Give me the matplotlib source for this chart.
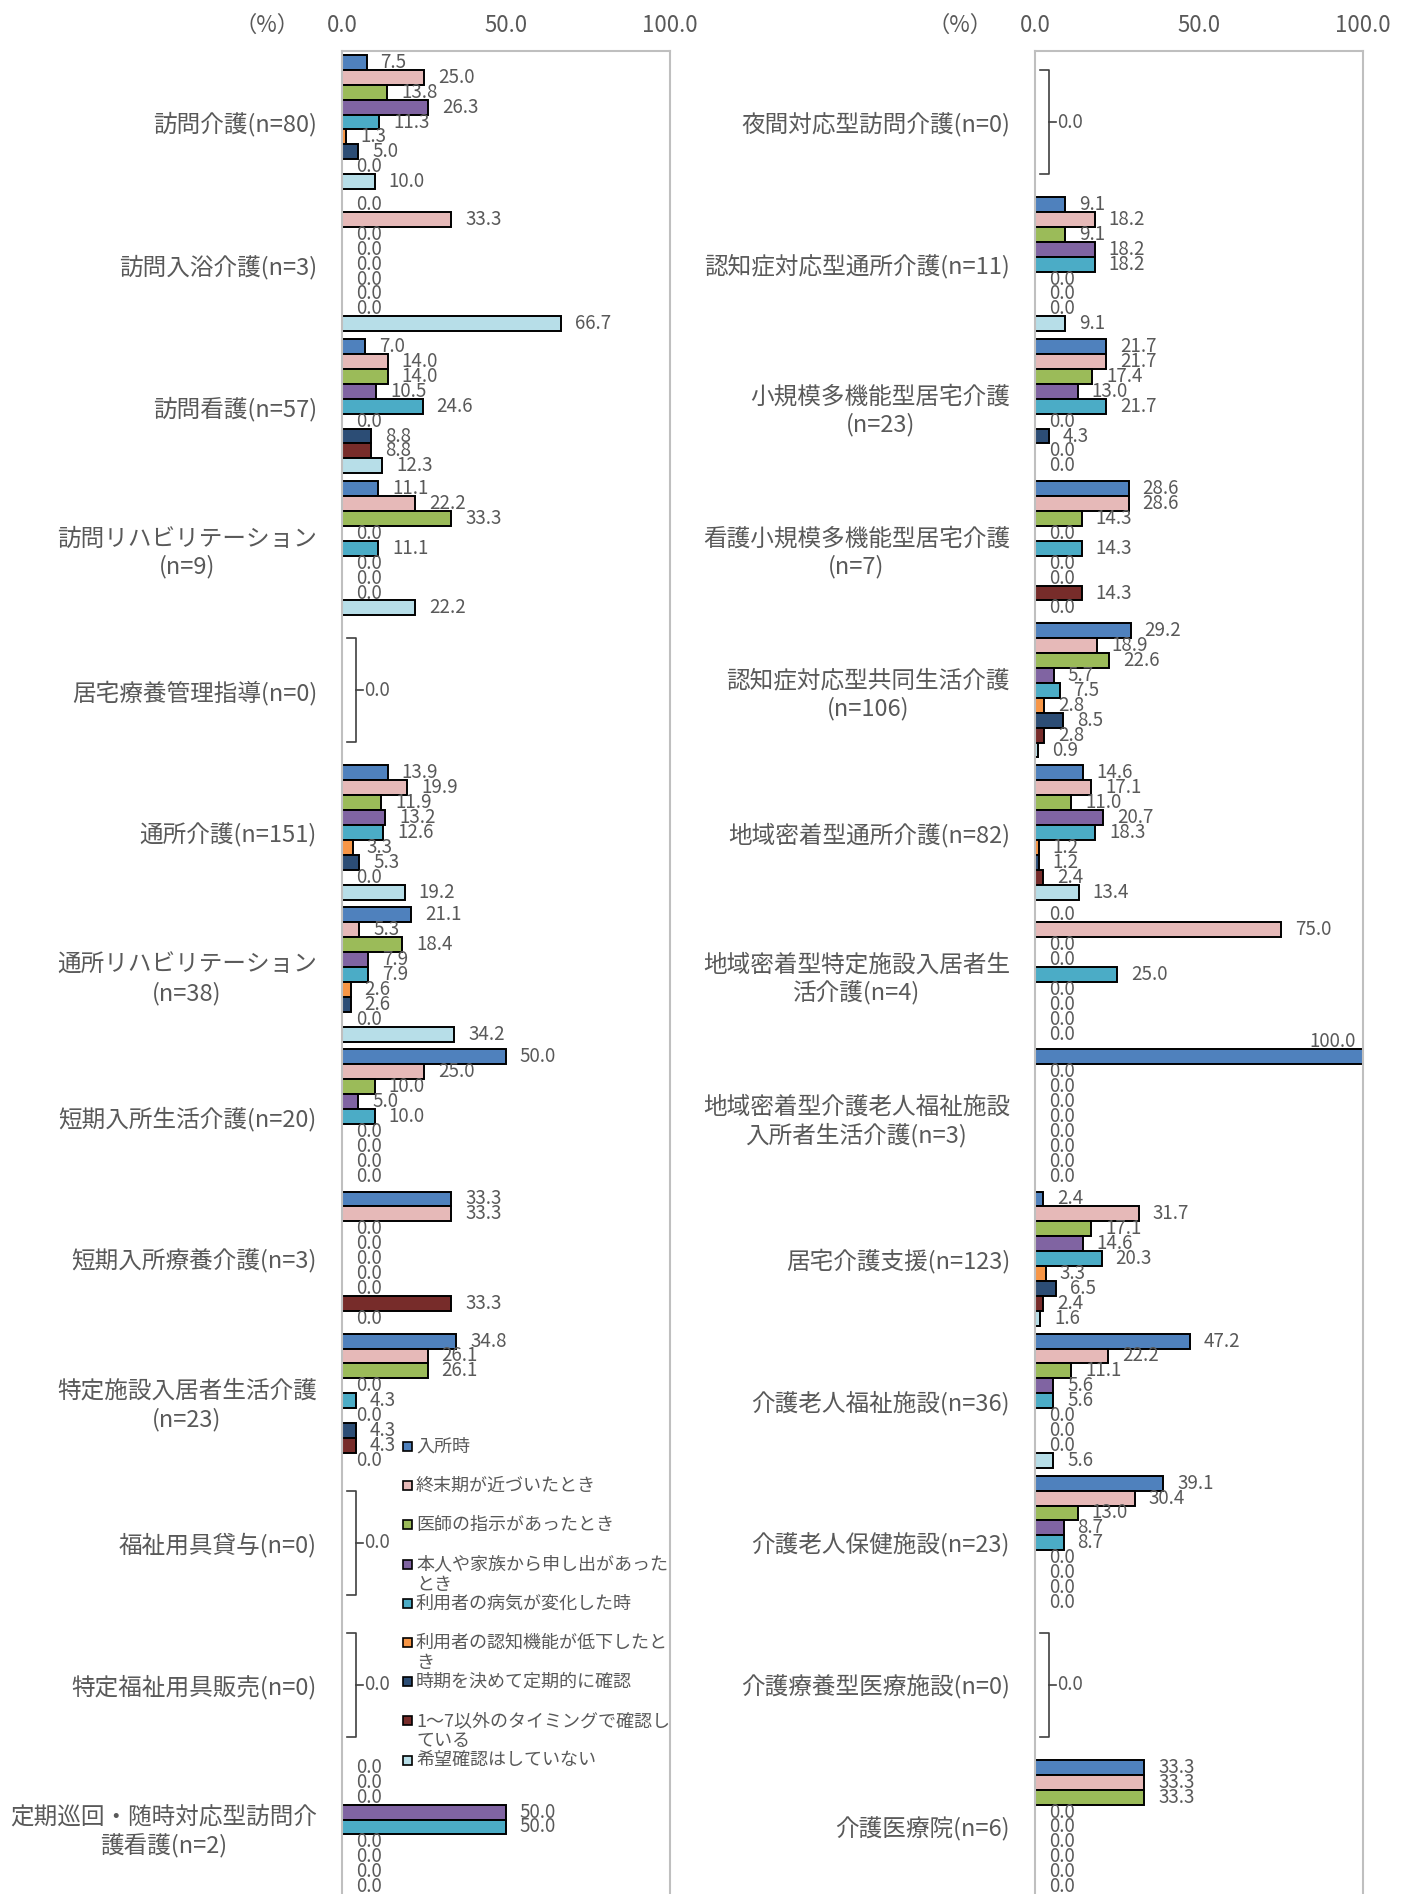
import numpy as np
import matplotlib
matplotlib.use('Agg')
import matplotlib.pyplot as plt
from matplotlib.patches import Rectangle

plt.rcParams['font.family'] = ['Noto Sans CJK JP', 'DejaVu Sans']

series = ['入所時', '終末期が近づいたとき', '医師の指示があったとき',
          '本人や家族から申し出があったとき', '利用者の病気が変化した時',
          '利用者の認知機能が低下したとき', '時期を決めて定期的に確認',
          '1～7以外のタイミングで確認している', '希望確認はしていない']
colors = ['#4F81BD', '#E6B9B8', '#9BBB59', '#8064A2', '#4BACC6',
          '#F79646', '#2C4D75', '#772C2A', '#B7DEE8']
# legend text as wrapped in the original
legend_lines = [['入所時'], ['終末期が近づいたとき'], ['医師の指示があったとき'],
                ['本人や家族から申し出があった', 'とき'], ['利用者の病気が変化した時'],
                ['利用者の認知機能が低下したと', 'き'], ['時期を決めて定期的に確認'],
                ['1～7以外のタイミングで確認し', 'ている'], ['希望確認はしていない']]

left_labels = ['訪問介護(n=80)', '訪問入浴介護(n=3)', '訪問看護(n=57)',
               '訪問リハビリテーション\n(n=9)', '居宅療養管理指導(n=0)', '通所介護(n=151)',
               '通所リハビリテーション\n(n=38)', '短期入所生活介護(n=20)', '短期入所療養介護(n=3)',
               '特定施設入居者生活介護\n(n=23)', '福祉用具貸与(n=0)', '特定福祉用具販売(n=0)',
               '定期巡回・随時対応型訪問介\n護看護(n=2)']
left_values = [
    [7.5, 25.0, 13.8, 26.3, 11.3, 1.3, 5.0, 0.0, 10.0],
    [0.0, 33.3, 0.0, 0.0, 0.0, 0.0, 0.0, 0.0, 66.7],
    [7.0, 14.0, 14.0, 10.5, 24.6, 0.0, 8.8, 8.8, 12.3],
    [11.1, 22.2, 33.3, 0.0, 11.1, 0.0, 0.0, 0.0, 22.2],
    None,
    [13.9, 19.9, 11.9, 13.2, 12.6, 3.3, 5.3, 0.0, 19.2],
    [21.1, 5.3, 18.4, 7.9, 7.9, 2.6, 2.6, 0.0, 34.2],
    [50.0, 25.0, 10.0, 5.0, 10.0, 0.0, 0.0, 0.0, 0.0],
    [33.3, 33.3, 0.0, 0.0, 0.0, 0.0, 0.0, 33.3, 0.0],
    [34.8, 26.1, 26.1, 0.0, 4.3, 0.0, 4.3, 4.3, 0.0],
    None,
    None,
    [0.0, 0.0, 0.0, 50.0, 50.0, 0.0, 0.0, 0.0, 0.0],
]

right_labels = ['夜間対応型訪問介護(n=0)', '認知症対応型通所介護(n=11)', '小規模多機能型居宅介護\n(n=23)',
                '看護小規模多機能型居宅介護\n(n=7)', '認知症対応型共同生活介護\n(n=106)',
                '地域密着型通所介護(n=82)', '地域密着型特定施設入居者生\n活介護(n=4)',
                '地域密着型介護老人福祉施設\n入所者生活介護(n=3)', '居宅介護支援(n=123)',
                '介護老人福祉施設(n=36)', '介護老人保健施設(n=23)', '介護療養型医療施設(n=0)',
                '介護医療院(n=6)']
right_values = [
    None,
    [9.1, 18.2, 9.1, 18.2, 18.2, 0.0, 0.0, 0.0, 9.1],
    [21.7, 21.7, 17.4, 13.0, 21.7, 0.0, 4.3, 0.0, 0.0],
    [28.6, 28.6, 14.3, 0.0, 14.3, 0.0, 0.0, 14.3, 0.0],
    [29.2, 18.9, 22.6, 5.7, 7.5, 2.8, 8.5, 2.8, 0.9],
    [14.6, 17.1, 11.0, 20.7, 18.3, 1.2, 1.2, 2.4, 13.4],
    [0.0, 75.0, 0.0, 0.0, 25.0, 0.0, 0.0, 0.0, 0.0],
    [100.0, 0.0, 0.0, 0.0, 0.0, 0.0, 0.0, 0.0, 0.0],
    [2.4, 31.7, 17.1, 14.6, 20.3, 3.3, 6.5, 2.4, 1.6],
    [47.2, 22.2, 11.1, 5.6, 5.6, 0.0, 0.0, 0.0, 5.6],
    [39.1, 30.4, 13.0, 8.7, 8.7, 0.0, 0.0, 0.0, 0.0],
    None,
    [33.3, 33.3, 33.3, 0.0, 0.0, 0.0, 0.0, 0.0, 0.0],
]

W, H = 1403, 1894
TXT = '#595959'
VFS = 13.5
fig = plt.figure(figsize=(W / 100, H / 100), dpi=100)


def panel(x0, labels, values):
    ax = fig.add_axes([x0 / W, (H - 1898) / H, 328 / W, 1847 / H])
    bh = 0.105
    offs = (np.arange(len(series)) - (len(series) - 1) / 2) * bh
    for i, vals in enumerate(values):
        if vals is None:
            # empty group: bracket with a single 0.0 label
            ax.plot([1.4, 4.3, 4.3, 1.4], [i - 0.365, i - 0.365, i + 0.365, i + 0.365],
                    color='#404040', lw=1.2)
            ax.plot([4.3, 6.5], [i, i], color='#404040', lw=1.2)
            ax.text(6.6, i, '0.0', va='center', ha='left', fontsize=VFS, color=TXT)
            continue
        ys = i + offs
        ax.barh(ys, vals, height=bh, color=colors, edgecolor='black', linewidth=1.4)
        for y, v in zip(ys, vals):
            if v >= 95:
                ax.annotate(f'{v:.1f}', xy=(v, y), xytext=(-5, 11), textcoords='offset points',
                            va='center', ha='right', fontsize=VFS, color=TXT)
            else:
                ax.annotate(f'{v:.1f}', xy=(v, y), xytext=(10, 0), textcoords='offset points',
                            va='center', ha='left', fontsize=VFS, color=TXT)
    ax.set_xlim(0, 100)
    ax.set_ylim(len(labels) - 0.5, -0.5)
    ax.xaxis.tick_top()
    ax.set_xticks([0, 50, 100])
    ax.set_xticklabels(['0.0', '50.0', '100.0'], fontsize=16, color=TXT)
    ax.set_yticks(range(len(labels)))
    ax.set_yticklabels(labels, fontsize=17, color=TXT)
    for t in ax.get_yticklabels():
        t.set_multialignment('center')
        t.set_linespacing(1.25)
    ax.tick_params(axis='x', length=0, pad=10)
    ax.tick_params(axis='y', length=0, pad=18)
    for s in ['left', 'top', 'right']:
        ax.spines[s].set_color('#BFBFBF')
        ax.spines[s].set_linewidth(1.5)
    ax.spines['bottom'].set_visible(False)
    ax.annotate('（%）', xy=(0, 1), xycoords='axes fraction', xytext=(-54, 10),
                textcoords='offset points', ha='center', va='bottom', fontsize=16, color=TXT)
    return ax


panel(342, left_labels, left_values)
panel(1035, right_labels, right_values)

# legend, laid out as in the original
for k, lines in enumerate(legend_lines):
    yp = 1446.5 + k * 39.2
    fig.add_artist(Rectangle((403 / W, 1 - (yp + 4.5) / H), 9 / W, 9 / H,
                             transform=fig.transFigure, facecolor=colors[k],
                             edgecolor='black', linewidth=1.2))
    for j, line in enumerate(lines):
        fig.text(416 / W, 1 - (yp + j * 20.5) / H, line, va='center', ha='left',
                 fontsize=13, color=TXT)

fig.savefig('out.png', dpi=100)
